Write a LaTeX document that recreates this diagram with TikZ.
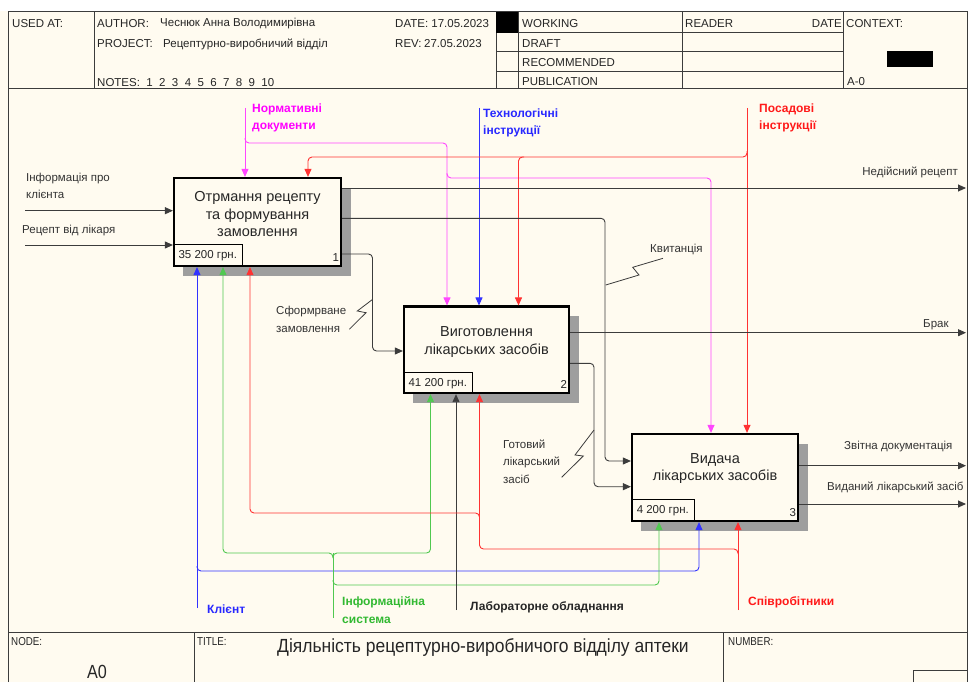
\documentclass[tikz,border=0pt]{standalone}
\usepackage{fontspec}
\usepackage{graphicx}
\setmainfont{Liberation Sans}
\usetikzlibrary{arrows.meta,calc}
\definecolor{bg}{RGB}{255,251,240}
\definecolor{linec}{RGB}{60,60,60}
\definecolor{pinkc}{RGB}{255,70,255}
\definecolor{pinkt}{RGB}{255,0,255}
\definecolor{bluec}{RGB}{50,50,255}
\definecolor{bluet}{RGB}{40,40,255}
\definecolor{redc}{RGB}{255,50,50}
\definecolor{redt}{RGB}{255,25,25}
\definecolor{greenc}{RGB}{80,200,80}
\definecolor{greent}{RGB}{50,185,50}
\begin{document}
\begin{tikzpicture}[x=1pt,y=-1pt,
  frame/.style={draw=linec,line width=1pt},
  hdr/.style={font=\fontsize{11.5}{14}\selectfont,anchor=west,inner sep=0pt,text=black!85},
  lbl/.style={font=\fontsize{11.5}{17.5}\selectfont,anchor=west,inner sep=0pt,align=left,text=black!80},
  blbl/.style={font=\bfseries\fontsize{12}{17.5}\selectfont,anchor=west,inner sep=0pt,align=left},
  boxnode/.style={draw=black,line width=2.2pt,fill=bg,inner sep=0pt},
  boxtxt/.style={font=\fontsize{14.5}{17.5}\selectfont,align=center,inner sep=0pt,text=black!85},
  costbox/.style={draw=black,line width=0.8pt,inner sep=0pt,font=\fontsize{11.5}{14}\selectfont,text=black!85},
  numtxt/.style={font=\fontsize{11.5}{14}\selectfont,inner sep=0pt,anchor=east,text=black!85},
  shade/.style={fill=black!38},
  ar/.style={-{Triangle[length=8pt,width=7pt]},line width=0.9pt,rounded corners=4pt},
  pl/.style={line width=0.9pt,rounded corners=4pt},
  sq/.style={draw=linec,line width=0.8pt}
]
\useasboundingbox (0,0) rectangle (968,682);
\fill[bg] (0,0) rectangle (968,682);
\fill[white] (0,0) rectangle (968,11);

% ---------- frame ----------
\draw[frame] (8,682) -- (8,12) -- (967,12) -- (967,682);
\draw[frame] (8,89) -- (967,89);
\draw[frame] (8,632.7) -- (967,632.7);
\foreach \x in {94,496,518,682,843} \draw[frame] (\x,12) -- (\x,89);
\foreach \y in {33,52,72} \draw[frame] (496,\y) -- (843,\y);
\fill[black] (496,12) rectangle (518,33);
\fill[black] (887,51) rectangle (933,67);
\draw[frame] (194,632.7) -- (194,682);
\draw[frame] (723,632.7) -- (723,682);
\draw[frame] (913,682) -- (913,670) -- (967,670);

% ---------- header texts ----------
\node[hdr] (usedat) at (12,24) {USED AT:};
\node[hdr] (author) at (97,24) {AUTHOR:};
\node[hdr] (authorv) at (160,24) {Чеснюк Анна Володимирівна};
\node[hdr] (project) at (97,44) {PROJECT:};
\node[hdr] (projectv) at (163,44) {Рецептурно-виробничий відділ};
\node[hdr] (notes) at (97,83) {NOTES:\ \ 1\ \ 2\ \ 3\ \ 4\ \ 5\ \ 6\ \ 7\ \ 8\ \ 9\ \ 10};
\node[hdr] (date) at (395,24) {DATE: 17.05.2023};
\node[hdr] (rev) at (395,44) {REV:};
\node[hdr] (revv) at (424,44) {27.05.2023};
\node[hdr] (working) at (522,24) {WORKING};
\node[hdr] (draft) at (522,44) {DRAFT};
\node[hdr] (recom) at (522,63) {RECOMMENDED};
\node[hdr] (publ) at (522,82) {PUBLICATION};
\node[hdr] (reader) at (685,24) {READER};
\node[hdr,anchor=east] (rdate) at (842,24) {DATE};
\node[hdr] (context) at (846,24) {CONTEXT:};
\node[hdr] (azero) at (847,82) {A-0};

% ---------- footer texts ----------
\node[hdr] (nodel) at (11,642) {\scalebox{0.85}[1]{NODE:}};
\node[font=\fontsize{19}{22}\selectfont,inner sep=0pt,text=black!85] (nodev) at (97,672) {\scalebox{0.85}[1]{A0}};
\node[hdr] (titlel) at (197,642) {\scalebox{0.85}[1]{TITLE:}};
\node[font=\fontsize{19}{22}\selectfont,inner sep=0pt,text=black!85] (title) at (483,647) {\scalebox{0.92}[1]{Діяльність рецептурно-виробничого відділу аптеки}};
\node[hdr] (numberl) at (728,642) {\scalebox{0.85}[1]{NUMBER:}};

% ---------- shadows ----------
\fill[shade] (341,188) rectangle (351,276);
\fill[shade] (183,266) rectangle (351,276);
\fill[shade] (569,316) rectangle (579,403);
\fill[shade] (413,393) rectangle (579,403);
\fill[shade] (798,444) rectangle (808,531);
\fill[shade] (641,521) rectangle (808,531);

% ---------- boxes ----------
\node[boxnode,minimum width=167pt,minimum height=88pt] (b1) at (257.5,222) {};
\node[boxnode,minimum width=165pt,minimum height=86.5pt] (b2) at (486.5,349.8) {};
\node[boxnode,minimum width=166pt,minimum height=87pt] (b3) at (715,477.5) {};
\node[boxtxt] (b1t) at (257.5,214.5) {Отрмання рецепту\\та формування\\замовлення};
\node[boxtxt] (b2t) at (486.5,342) {Виготовлення\\лікарських засобів};
\node[boxtxt] (b3t) at (715,468.5) {Видача\\лікарських засобів};
\node[costbox,anchor=south west,minimum width=69pt,minimum height=22pt] (c1) at (b1.south west) {35 200 грн.};
\node[costbox,anchor=south west,minimum width=69pt,minimum height=21pt] (c2) at (b2.south west) {41 200 грн.};
\node[costbox,anchor=south west,minimum width=63pt,minimum height=22pt] (c3) at (b3.south west) {4 200 грн.};
\node[numtxt] (n1) at ($(b1.south east)+(-3,-10)$) {1};
\node[numtxt] (n2) at ($(b2.south east)+(-3,-10)$) {2};
\node[numtxt] (n3) at ($(b3.south east)+(-3,-10)$) {3};

% ---------- coordinates ----------
\coordinate (in1) at (25,210.7);
\coordinate (in2) at (25,245);
\coordinate (ndTop) at (245,108);
\coordinate (tiTop) at (479,108);
\coordinate (piTop) at (747,108);
\coordinate (o1) at (966,188);
\coordinate (kv) at (605,218.3);
\coordinate (kvIn) at (620,461);
\coordinate (sf) at (372.5,254);
\coordinate (sfIn) at (390,351);
\coordinate (brak) at (966,332.7);
\coordinate (gv) at (594,363.3);
\coordinate (gvIn) at (620,486.7);
\coordinate (o3a) at (966,465.7);
\coordinate (o3b) at (966,504);
\coordinate (klB) at (197,608);
\coordinate (gsB) at (333,618);
\coordinate (labB) at (456,610);
\coordinate (spB) at (738,610);

% ---------- inputs ----------
\draw[ar,draw=linec] (in1) -- (in1 -| b1.west);
\draw[ar,draw=linec] (in2) -- (in2 -| b1.west);

% ---------- controls ----------
\draw[ar,draw=pinkc] (ndTop) -- (ndTop |- b1.north);
\draw[ar,draw=pinkc] (245,138) -- (245,143) -- (447,143) -- (447,0 |- b2.north);
\draw[ar,draw=pinkc] (447,173) -- (447,178) -- (711,178) -- (711,0 |- b3.north);
\draw[ar,draw=bluec] (tiTop) -- (tiTop |- b2.north);
\draw[ar,draw=redc] (piTop) -- (piTop |- b3.north);
\draw[ar,draw=redc] (747,151) -- (747,157) -- (308,157) -- (308,0 |- b1.north);
\draw[ar,draw=redc] (524,157) -- (518.5,157) -- (518.5,0 |- b2.north);

% ---------- outputs ----------
\draw[ar,draw=linec] (b1.east |- o1) -- (o1);
\draw[ar,draw=linec] (b1.east |- kv) -- (kv) -- (kv |- kvIn) -- (b3.west |- kvIn);
\draw[ar,draw=linec] (b1.east |- sf) -- (sf) -- (sf |- sfIn) -- (b2.west |- sfIn);
\draw[ar,draw=linec] (b2.east |- brak) -- (brak);
\draw[ar,draw=linec] (b2.east |- gv) -- (gv) -- (gv |- gvIn) -- (b3.west |- gvIn);
\draw[ar,draw=linec] (b3.east |- o3a) -- (o3a);
\draw[ar,draw=linec] (b3.east |- o3b) -- (o3b);

% ---------- mechanisms ----------
\draw[ar,draw=bluec] (klB) -- (klB |- b1.south);
\draw[ar,draw=bluec] (197,566) -- (197,571) -- (699,571) -- (699,0 |- b3.south);
\draw[pl,draw=greenc] (gsB) -- (333,553);
\draw[ar,draw=greenc] (333,558) -- (333,553) -- (223,553) -- (223,0 |- b1.south);
\draw[ar,draw=greenc] (333,558) -- (333,553) -- (430.5,553) -- (430.5,0 |- b2.south);
\draw[ar,draw=greenc] (333,580) -- (333,585) -- (659,585) -- (659,0 |- b3.south);
\draw[ar,draw=linec] (labB) -- (labB |- b2.south);
\draw[ar,draw=redc] (spB) -- (spB |- b3.south);
\draw[ar,draw=redc] (738,554) -- (738,549) -- (479.5,549) -- (479.5,0 |- b2.south);
\draw[ar,draw=redc] (479.5,518) -- (479.5,513) -- (250,513) -- (250,0 |- b1.south);

% ---------- squiggles ----------
\draw[sq] (605.7,285) -- (639,275) -- (632.7,267.3) -- (663,258.3);
\draw[sq] (372.7,299.3) -- (357.3,311) -- (366,312.7) -- (349.3,329.3);
\draw[sq] (594,430) -- (575,455) -- (583.3,456) -- (561.7,477.3);

% ---------- labels ----------
\node[lbl] (l1) at (26,186) {Інформація про\\клієнта};
\node[lbl] (l2) at (22,231) {Рецепт від лікаря};
\node[blbl,text=pinkt] (l3) at (252,118) {Нормативні\\документи};
\node[blbl,text=bluet] (l4) at (483,123) {Технологічні\\інструкції};
\node[blbl,text=redt] (l5) at (759,118) {Посадові\\інструкції};
\node[lbl,anchor=east] (l6) at (958,172) {Недійсний рецепт};
\node[lbl] (l7) at (650,249) {Квитанція};
\node[lbl] (l8) at (276,319.5) {Сформрване\\замовлення};
\node[lbl] (l9) at (923,325) {Брак};
\node[lbl] (l10) at (503,461.5) {Готовий\\лікарський\\засіб};
\node[lbl] (l11) at (844,446.7) {Звітна документація};
\node[lbl] (l12) at (827,487) {Виданий лікарський засіб};
\node[blbl,text=bluet] (l13) at (207,609) {Клієнт};
\node[blbl,text=greent] (l14) at (342,610) {Інформаційна\\система};
\node[blbl,text=black!85] (l15) at (470,607) {Лабораторне обладнання};
\node[blbl,text=redt] (l16) at (748,602) {Співробітники};
\end{tikzpicture}
\end{document}
